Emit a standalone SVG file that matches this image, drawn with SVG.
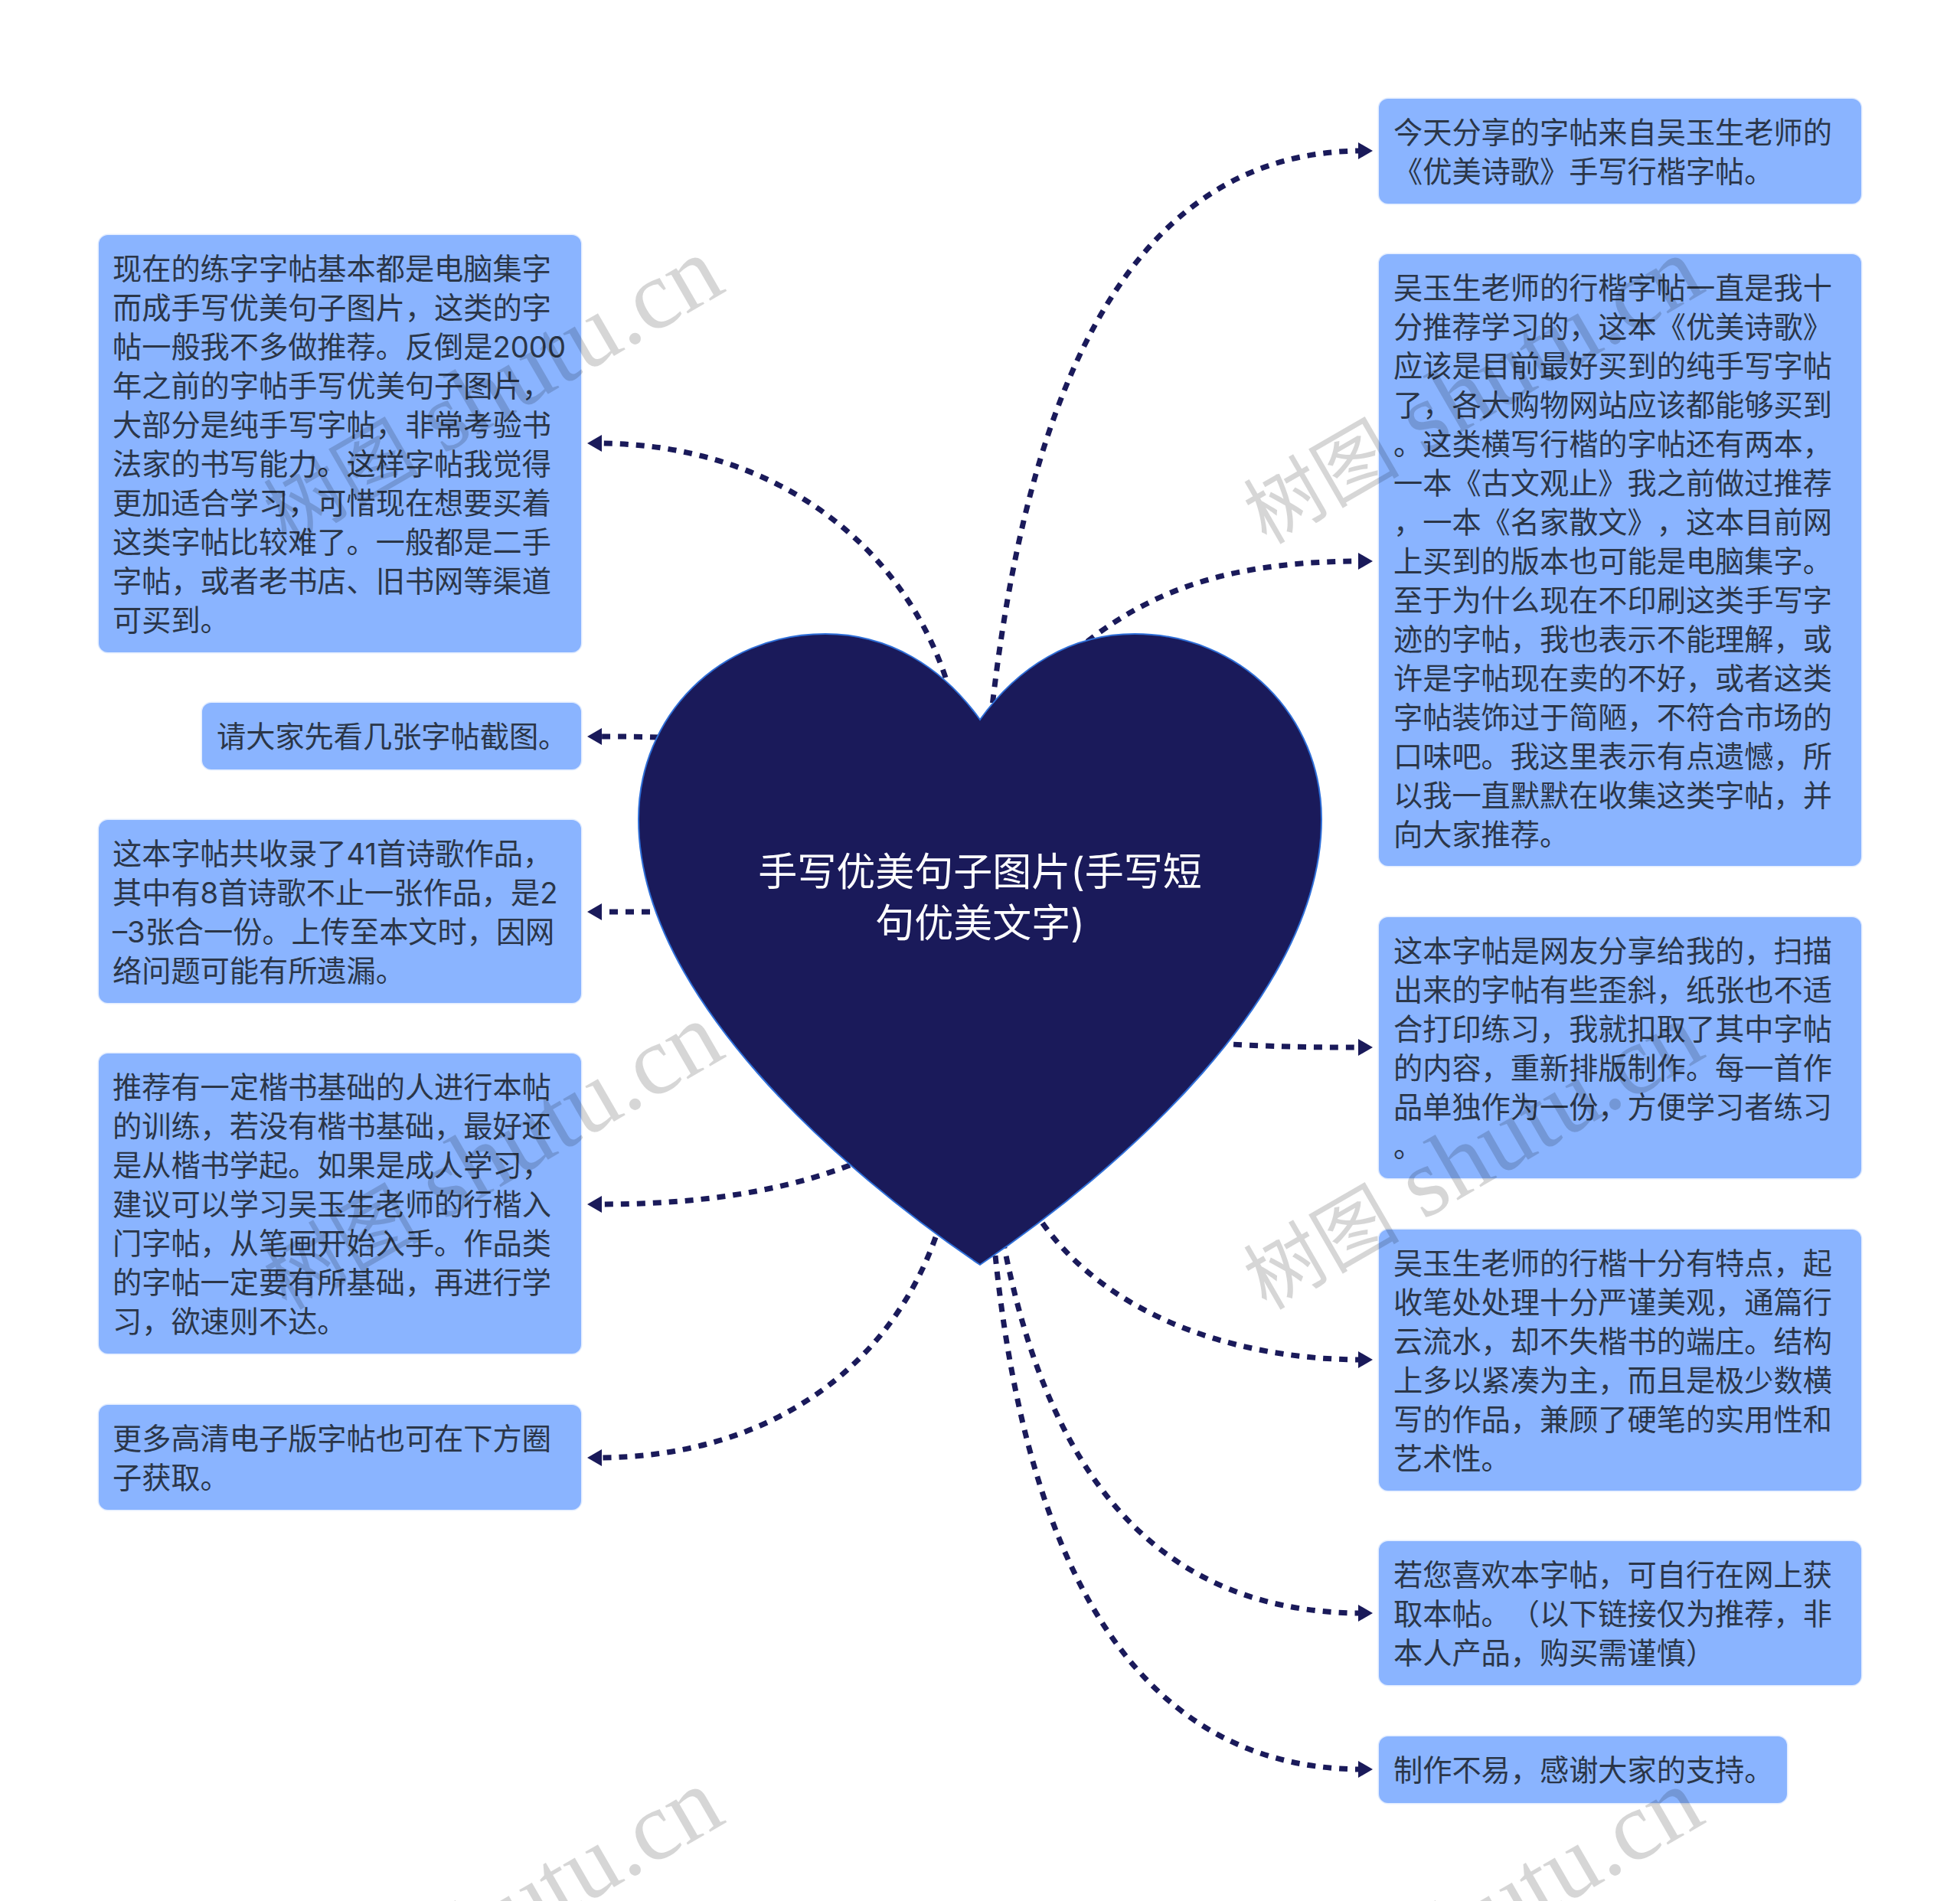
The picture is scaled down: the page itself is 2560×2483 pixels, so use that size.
<svg xmlns="http://www.w3.org/2000/svg" width="2560" height="2483" viewBox="0 0 2560 2483">
<defs>
<style>
.box{fill:#8ab4ff;stroke:#e3edff;stroke-width:3;paint-order:stroke}
.t{font-family:"Inter","Noto Sans CJK SC",sans-serif;font-size:38.2px;fill:#2b3648;text-spacing-trim:space-all}
.c{font-family:"Inter","Noto Sans CJK SC",sans-serif;font-size:51px;fill:#fff;text-anchor:middle;text-spacing-trim:space-all}
.e{fill:none;stroke:#1a1a5a;stroke-width:7;stroke-dasharray:11 10;marker-end:url(#a)}
.w{font-family:"Liberation Serif","Noto Sans CJK SC",serif;font-size:128px;fill:#000;fill-opacity:.16}
.wc{font-family:"Noto Sans CJK SC",serif;font-size:102px}
</style>
<marker id="a" markerUnits="userSpaceOnUse" markerWidth="20" markerHeight="24" refX="6" refY="11" orient="auto"><path d="M0,0L19,11L0,22Z" fill="#1a1a5a"/></marker>
</defs>
<rect width="2560" height="2483" fill="#fff"/>
<g id="connectors">
<path class="e" d="M1292,960C1340,480 1490,197 1780,197"/>
<path class="e" d="M1420,838C1520,760 1630,733 1780,733"/>
<path class="e" d="M1590,1363C1680,1368 1720,1368 1780,1368"/>
<path class="e" d="M1350,1580C1430,1710 1600,1776 1780,1776"/>
<path class="e" d="M1310,1620C1360,1880 1480,2107 1780,2107"/>
<path class="e" d="M1300,1640C1335,1980 1450,2311 1780,2311"/>
<path class="e" d="M1235,885C1180,720 1020,579 780,579"/>
<path class="e" d="M860,963C830,962 810,962 780,962"/>
<path class="e" d="M870,1191C840,1191 810,1191 780,1191"/>
<path class="e" d="M1110,1522C1010,1560 900,1573 780,1573"/>
<path class="e" d="M1222,1616C1160,1790 1000,1904 780,1904"/>
</g>
<g id="root"><path d="M1280,940C1230,870 1160,828 1078,828C940,828 834,935 834,1070C834,1300 1100,1530 1280,1652C1460,1530 1726,1300 1726,1070C1726,935 1620,828 1482,828C1400,828 1330,870 1280,940Z" fill="#1a1a5a" stroke="#2f6fd8" stroke-width="2"/>
<text class="c"><tspan x="1280" y="1157">手写优美句子图片(手写短</tspan><tspan x="1280" y="1224">句优美文字)</tspan></text></g>
<g id="n1"><rect class="box" x="1801" y="129" width="630" height="137" rx="12"/><text class="t"><tspan x="1820" y="187">今天分享的字帖来自吴玉生老师的</tspan><tspan x="1820" y="238">《优美诗歌》手写行楷字帖。</tspan></text></g>
<g id="n2"><rect class="box" x="1801" y="332" width="630" height="799" rx="12"/><text class="t"><tspan x="1820" y="390">吴玉生老师的行楷字帖一直是我十</tspan><tspan x="1820" y="441">分推荐学习的，这本《优美诗歌》</tspan><tspan x="1820" y="492">应该是目前最好买到的纯手写字帖</tspan><tspan x="1820" y="543">了，各大购物网站应该都能够买到</tspan><tspan x="1820" y="594">。这类横写行楷的字帖还有两本，</tspan><tspan x="1820" y="645">一本《古文观止》我之前做过推荐</tspan><tspan x="1820" y="696">，一本《名家散文》，这本目前网</tspan><tspan x="1820" y="747">上买到的版本也可能是电脑集字。</tspan><tspan x="1820" y="798">至于为什么现在不印刷这类手写字</tspan><tspan x="1820" y="849">迹的字帖，我也表示不能理解，或</tspan><tspan x="1820" y="900">许是字帖现在卖的不好，或者这类</tspan><tspan x="1820" y="951">字帖装饰过于简陋，不符合市场的</tspan><tspan x="1820" y="1002">口味吧。我这里表示有点遗憾，所</tspan><tspan x="1820" y="1053">以我一直默默在收集这类字帖，并</tspan><tspan x="1820" y="1104">向大家推荐。</tspan></text></g>
<g id="n3"><rect class="box" x="1801" y="1198" width="630" height="341" rx="12"/><text class="t"><tspan x="1820" y="1256">这本字帖是网友分享给我的，扫描</tspan><tspan x="1820" y="1307">出来的字帖有些歪斜，纸张也不适</tspan><tspan x="1820" y="1358">合打印练习，我就扣取了其中字帖</tspan><tspan x="1820" y="1409">的内容，重新排版制作。每一首作</tspan><tspan x="1820" y="1460">品单独作为一份，方便学习者练习</tspan><tspan x="1820" y="1511">。</tspan></text></g>
<g id="n4"><rect class="box" x="1801" y="1606" width="630" height="341" rx="12"/><text class="t"><tspan x="1820" y="1664">吴玉生老师的行楷十分有特点，起</tspan><tspan x="1820" y="1715">收笔处处理十分严谨美观，通篇行</tspan><tspan x="1820" y="1766">云流水，却不失楷书的端庄。结构</tspan><tspan x="1820" y="1817">上多以紧凑为主，而且是极少数横</tspan><tspan x="1820" y="1868">写的作品，兼顾了硬笔的实用性和</tspan><tspan x="1820" y="1919">艺术性。</tspan></text></g>
<g id="n5"><rect class="box" x="1801" y="2013" width="630" height="188" rx="12"/><text class="t"><tspan x="1820" y="2071">若您喜欢本字帖，可自行在网上获</tspan><tspan x="1820" y="2122">取本帖。（以下链接仅为推荐，非</tspan><tspan x="1820" y="2173">本人产品，购买需谨慎）</tspan></text></g>
<g id="n6"><rect class="box" x="1801" y="2268" width="533" height="87" rx="12"/><text class="t"><tspan x="1820" y="2326">制作不易，感谢大家的支持。</tspan></text></g>
<g id="l1"><rect class="box" x="129" y="307" width="630" height="545" rx="12"/><text class="t"><tspan x="147" y="365">现在的练字字帖基本都是电脑集字</tspan><tspan x="147" y="416">而成手写优美句子图片，这类的字</tspan><tspan x="147" y="467">帖一般我不多做推荐。反倒是2000</tspan><tspan x="147" y="518">年之前的字帖手写优美句子图片，</tspan><tspan x="147" y="569">大部分是纯手写字帖，非常考验书</tspan><tspan x="147" y="620">法家的书写能力。这样字帖我觉得</tspan><tspan x="147" y="671">更加适合学习，可惜现在想要买着</tspan><tspan x="147" y="722">这类字帖比较难了。一般都是二手</tspan><tspan x="147" y="773">字帖，或者老书店、旧书网等渠道</tspan><tspan x="147" y="824">可买到。</tspan></text></g>
<g id="l2"><rect class="box" x="264" y="918" width="495" height="87" rx="12"/><text class="t"><tspan x="283" y="976">请大家先看几张字帖截图。</tspan></text></g>
<g id="l3"><rect class="box" x="129" y="1071" width="630" height="239" rx="12"/><text class="t"><tspan x="147" y="1129">这本字帖共收录了41首诗歌作品，</tspan><tspan x="147" y="1180">其中有8首诗歌不止一张作品，是2</tspan><tspan x="147" y="1231">–3张合一份。上传至本文时，因网</tspan><tspan x="147" y="1282">络问题可能有所遗漏。</tspan></text></g>
<g id="l4"><rect class="box" x="129" y="1376" width="630" height="392" rx="12"/><text class="t"><tspan x="147" y="1434">推荐有一定楷书基础的人进行本帖</tspan><tspan x="147" y="1485">的训练，若没有楷书基础，最好还</tspan><tspan x="147" y="1536">是从楷书学起。如果是成人学习，</tspan><tspan x="147" y="1587">建议可以学习吴玉生老师的行楷入</tspan><tspan x="147" y="1638">门字帖，从笔画开始入手。作品类</tspan><tspan x="147" y="1689">的字帖一定要有所基础，再进行学</tspan><tspan x="147" y="1740">习，欲速则不达。</tspan></text></g>
<g id="l5"><rect class="box" x="129" y="1835" width="630" height="137" rx="12"/><text class="t"><tspan x="147" y="1893">更多高清电子版字帖也可在下方圈</tspan><tspan x="147" y="1944">子获取。</tspan></text></g>
<g id="watermark">
<text class="w" transform="translate(374,712) rotate(-30)"><tspan class="wc">树图</tspan> shutu.cn</text>
<text class="w" transform="translate(1654,712) rotate(-30)"><tspan class="wc">树图</tspan> shutu.cn</text>
<text class="w" transform="translate(374,1712) rotate(-30)"><tspan class="wc">树图</tspan> shutu.cn</text>
<text class="w" transform="translate(1654,1712) rotate(-30)"><tspan class="wc">树图</tspan> shutu.cn</text>
<text class="w" transform="translate(374,2712) rotate(-30)"><tspan class="wc">树图</tspan> shutu.cn</text>
<text class="w" transform="translate(1654,2712) rotate(-30)"><tspan class="wc">树图</tspan> shutu.cn</text>
</g>
</svg>
